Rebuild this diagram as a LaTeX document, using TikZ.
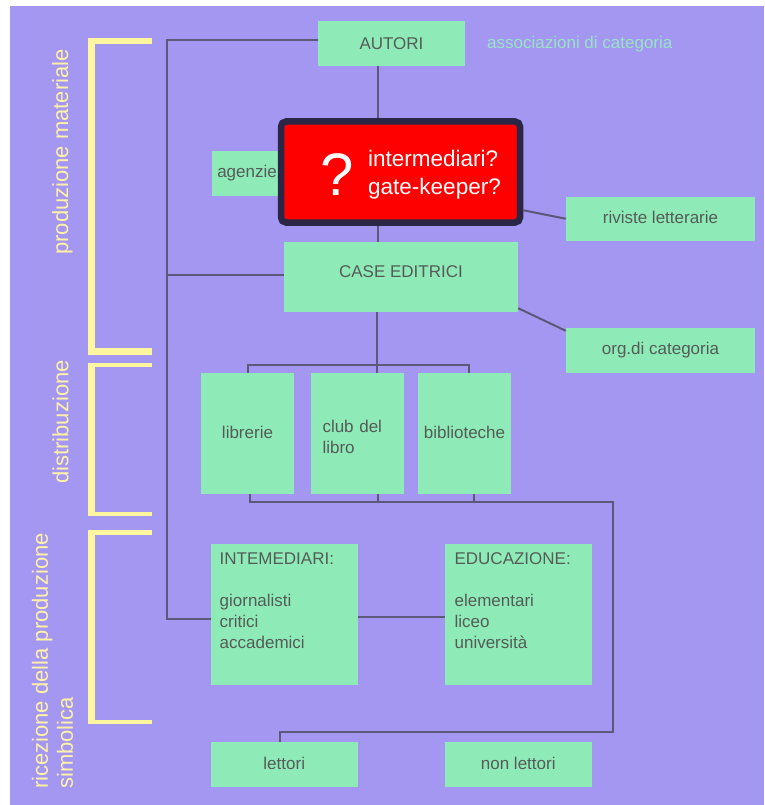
\documentclass[tikz,border=0pt]{standalone}
\usepackage{fontspec}
\setmainfont{Liberation Sans}
\usetikzlibrary{calc}

\definecolor{bgpurple}{HTML}{A497F2}
\definecolor{boxgreen}{HTML}{8EEBB7}
\definecolor{boxtext}{HTML}{555B58}
\definecolor{wire}{HTML}{5E5878}
\definecolor{bracketyellow}{HTML}{FFF7A0}
\definecolor{labelyellow}{HTML}{FFF2A6}
\definecolor{gateframe}{HTML}{2B2645}
\definecolor{assoc}{HTML}{98E4C4}

\tikzset{
  greenbox/.style={fill=boxgreen, draw=none, inner sep=0pt, text=boxtext,
    font=\fontsize{17}{21}\selectfont, text height=12pt, text depth=3pt},
  boxlabel/.style={inner sep=0pt, text=boxtext, align=left,
    font=\fontsize{17}{21}\selectfont},
  wire/.style={draw=wire, line width=2pt},
  bracket/.style={fill=bracketyellow, draw=none},
  sectionlabel/.style={text=labelyellow, inner sep=0pt, rotate=90,
    font=\fontsize{22}{25}\selectfont},
  gatelabel/.style={inner sep=0pt, text=white, font=\fontsize{22.5}{27}\selectfont},
}

\begin{document}
\begin{tikzpicture}[x=1pt,y=-1pt]
\useasboundingbox (0,0) rectangle (764,805);
\fill[white] (0,0) rectangle (764,805);
\fill[bgpurple] (10,6) rectangle (764,805);

% section brackets
\fill[bracket] (88,37.7) rectangle (95,355);
\fill[bracket] (88,37.7) rectangle (152,44);
\fill[bracket] (88,347.5) rectangle (152,355);
\fill[bracket] (88,363.3) rectangle (95,515.5);
\fill[bracket] (88,363.3) rectangle (152,367);
\fill[bracket] (88,512) rectangle (152,515.5);
\fill[bracket] (88,530) rectangle (95,724);
\fill[bracket] (88,530) rectangle (152,534.5);
\fill[bracket] (88,719.5) rectangle (152,724);

% section labels
\node[sectionlabel] (lprod) at (62.5,152) {produzione materiale};
\node[sectionlabel] (ldistr) at (60.5,422) {distribuzione};
\node[sectionlabel, anchor=north west, align=left] (lricez) at (31.7,789)
  {ricezione della produzione\\simbolica};

% boxes
\node[greenbox, minimum width=147, minimum height=45, text depth=0pt] (autori) at (391.5,43.5) {AUTORI};
\node[anchor=base west, inner sep=0pt, text=assoc, font=\fontsize{17}{21}\selectfont]
  (assoc) at (487,48.5) {associazioni di categoria};
\node[greenbox, minimum width=88.5, minimum height=45, text width=77, align=left]
  (agenzie) at (255.75,173.5) {agenzie};
\node[greenbox, minimum width=189, minimum height=44.5] (riviste) at (660.5,218.75) {riviste letterarie};
\node[greenbox, minimum width=234, minimum height=70, text height=12pt, text depth=12pt]
  (case) at (401,277) {CASE EDITRICI};
\node[greenbox, minimum width=189, minimum height=44.5] (org) at (660.5,350.25) {org.di categoria};

\node[greenbox, minimum width=93, minimum height=121] (libr) at (247.5,433.5) {librerie};
\node[greenbox, minimum width=93, minimum height=121, text width=70, align=left,
  text height=15pt, text depth=18pt] (club) at (357.5,433.5) {club del\\libro};
\node[greenbox, minimum width=93, minimum height=121] (biblio) at (464.5,433.5) {biblioteche};

\node[greenbox, minimum width=146.5, minimum height=141] (intem) at (284.25,614.5) {};
\node[greenbox, minimum width=146.5, minimum height=141] (educ) at (518.25,614.5) {};
\node[boxlabel, anchor=north west] (intemtxt) at ($(intem.north west)+(8.7,8.8)$)
  {INTEMEDIARI:\\[21pt]giornalisti\\critici\\accademici};
\node[boxlabel, anchor=north west] (eductxt) at ($(educ.north west)+(9.6,8.8)$)
  {EDUCAZIONE:\\[21pt]elementari\\liceo\\università};

\node[greenbox, minimum width=146.5, minimum height=45] (lett) at (284.25,764.5) {lettori};
\node[greenbox, minimum width=146.5, minimum height=45] (nonlett) at (518.25,764.5) {non lettori};

% helper coordinates for the wiring
\coordinate (spine) at (167,619);
\coordinate (axis) at (378,0);
\coordinate (tap) at (376.7,365);
\coordinate (bb) at (613,502);
\coordinate (lb) at (280,732);
\coordinate (t1) at ([xshift=2.5pt]libr.south);
\coordinate (t2) at ([xshift=20.2pt]club.south);
\coordinate (t3) at ([xshift=9.5pt]biblio.south);
\coordinate (lt) at ([xshift=-4.25pt]lett.north);

% connectors
\draw[wire] ([yshift=3.5pt]autori.west) -| (spine) -- ([yshift=-4.5pt]intem.west);
\draw[wire] (spine |- case.west) ++(0,-2) -- ([yshift=2pt]case.west);
\draw[wire] (autori.south -| axis) -- (case.north -| axis);
\draw[wire] (case.south -| tap) -- (club.north -| tap);
\draw[wire] (libr.north) |- (tap) -| ([xshift=4.5pt]biblio.north);
\draw[wire] ($(case.south east)+(0,-4)$) -- ($(org.north west)+(0,3)$);
\draw[wire] (t1) |- (bb) |- (lb) -- (lt);
\draw[wire] (t2) -- (t2 |- bb);
\draw[wire] (t3) -- (t3 |- bb);
\draw[wire] ([yshift=-2.5pt]intem.east) -- ([yshift=-2.5pt]educ.west);

% the open question between authors and publishers
\node[fill=red, draw=gateframe, line width=6.5pt, rounded corners=5pt,
  minimum width=239, minimum height=101, inner sep=0pt] (gate) at (400.5,172) {};
\draw[wire] ($(gate.south east)+(0,-15.5)$) -- (riviste.west);
\node[anchor=base, inner sep=0pt, text=white, font=\fontsize{60}{60}\selectfont]
  (qmark) at ($(gate.center)+(-63,23)$) {?};
\node[gatelabel, anchor=base west] (gatetxt1) at ($(gate.center)+(-32.5,-5)$) {intermediari?};
\node[gatelabel, anchor=base west] (gatetxt2) at ($(gate.center)+(-32.5,22)$) {gate-keeper?};
\end{tikzpicture}
\end{document}
